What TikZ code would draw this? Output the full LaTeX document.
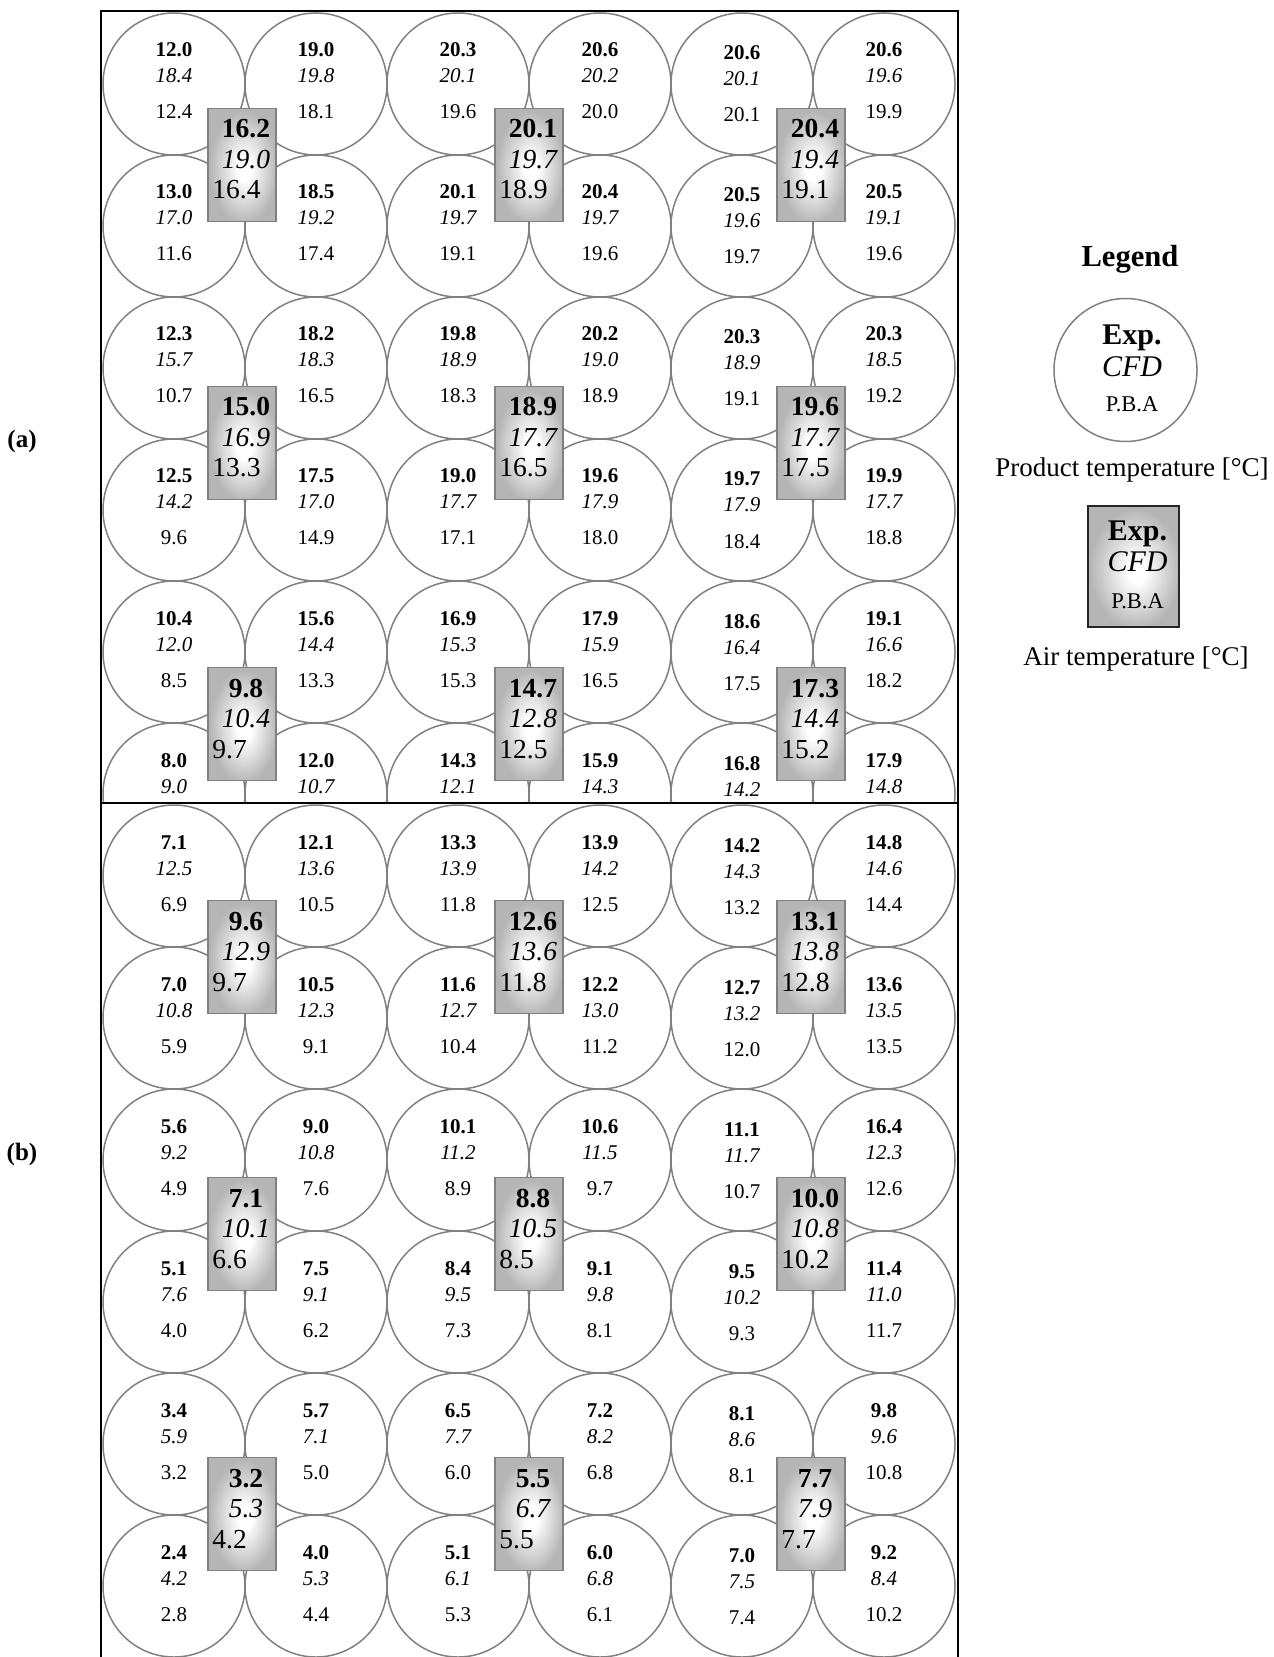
\documentclass[tikz,border=0pt]{standalone}
\usepackage{fontspec}
\setmainfont{Liberation Serif}
\usepackage{tikz}
\usetikzlibrary{shadings}

\newcommand\cellfont{\fontsize{10.5}{12.6}\selectfont}
\newcommand\boxfont{\fontsize{13.75}{16}\selectfont}
\newcommand\legfont{\fontsize{15}{18}\selectfont}

\pgfdeclareradialshading{airshade}{\pgfpoint{2bp}{-2bp}}{color(0bp)=(white); color(5bp)=(white);
  color(25bp)=(gray!58); color(50bp)=(gray!58)}

\tikzset{
  prod/.style={circle,draw=gray,line width=0.75pt,minimum size=71pt,inner sep=0pt},
  air/.style={rectangle,draw=gray,line width=0.75pt,shade,shading=airshade,
    minimum width=34pt,minimum height=56.5pt,inner sep=0pt},
  expval/.style={anchor=base,inner sep=0pt,font=\cellfont\bfseries},
  cfdval/.style={anchor=base,inner sep=0pt,font=\cellfont\itshape},
  pbaval/.style={anchor=base,inner sep=0pt,font=\cellfont},
  boxexp/.style={anchor=base,inner sep=0pt,font=\boxfont\bfseries},
  boxcfd/.style={anchor=base,inner sep=0pt,font=\boxfont\itshape},
  boxpba/.style={anchor=base west,inner sep=0pt,font=\boxfont},
  panel/.style={line width=1pt}
}

\begin{document}
\begin{tikzpicture}[x=0.5pt,y=-0.5pt]
\useasboundingbox (0,0) rectangle (1273,1657);
% (a) products
\begin{scope}
\clip (101,11) rectangle (958,803);
\foreach \r/\c/\e/\f/\p in {
  1/1/12.0/18.4/12.4, 1/2/19.0/19.8/18.1, 1/3/20.3/20.1/19.6, 1/4/20.6/20.2/20.0, 1/5/20.6/20.1/20.1, 1/6/20.6/19.6/19.9,
  2/1/13.0/17.0/11.6, 2/2/18.5/19.2/17.4, 2/3/20.1/19.7/19.1, 2/4/20.4/19.7/19.6, 2/5/20.5/19.6/19.7, 2/6/20.5/19.1/19.6,
  3/1/12.3/15.7/10.7, 3/2/18.2/18.3/16.5, 3/3/19.8/18.9/18.3, 3/4/20.2/19.0/18.9, 3/5/20.3/18.9/19.1, 3/6/20.3/18.5/19.2,
  4/1/12.5/14.2/9.6, 4/2/17.5/17.0/14.9, 4/3/19.0/17.7/17.1, 4/4/19.6/17.9/18.0, 4/5/19.7/17.9/18.4, 4/6/19.9/17.7/18.8,
  5/1/10.4/12.0/8.5, 5/2/15.6/14.4/13.3, 5/3/16.9/15.3/15.3, 5/4/17.9/15.9/16.5, 5/5/18.6/16.4/17.5, 5/6/19.1/16.6/18.2,
  6/1/8.0/9.0/{}, 6/2/12.0/10.7/{}, 6/3/14.3/12.1/{}, 6/4/15.9/14.3/{}, 6/5/16.8/14.2/{}, 6/6/17.9/14.8/{}}
{
  \pgfmathsetmacro\x{174+142*(\c-1)}
  \pgfmathsetmacro\y{84+142*(\r-1)}
  \pgfmathsetmacro\dy{ifthenelse(\c==5,3,0)}
  \node[prod] (a\r\c) at (\x,\y) {};
  \node[expval] (a\r\c e) at (\x,\y-27+\dy) {\e};
  \node[cfdval] (a\r\c f) at (\x,\y-1+\dy) {\f};
  \node[pbaval] (a\r\c p) at (\x,\y+35+\dy) {\p};
}
% (a) air
\foreach \n/\x/\y/\e/\f/\p in {
  1/242/165/16.2/19.0/16.4, 2/529/165/20.1/19.7/18.9, 3/811/165/20.4/19.4/19.1,
  4/242/443/15.0/16.9/13.3, 5/529/443/18.9/17.7/16.5, 6/811/443/19.6/17.7/17.5,
  7/242/724/9.8/10.4/9.7, 8/529/724/14.7/12.8/12.5, 9/811/724/17.3/14.4/15.2}
{
  \node[air] (aa\n) at (\x,\y) {};
  \node[boxexp] (aa\n e) at (\x+4,\y-27) {\e};
  \node[boxcfd] (aa\n f) at (\x+4,\y+3.5) {\f};
  \node[boxpba] (aa\n p) at (\x-30,\y+34) {\p};
}
\end{scope}
% (b) products
\begin{scope}
\clip (101,803) rectangle (958,1657);
\foreach \r/\c/\e/\f/\p in {
  1/1/7.1/12.5/6.9, 1/2/12.1/13.6/10.5, 1/3/13.3/13.9/11.8, 1/4/13.9/14.2/12.5, 1/5/14.2/14.3/13.2, 1/6/14.8/14.6/14.4,
  2/1/7.0/10.8/5.9, 2/2/10.5/12.3/9.1, 2/3/11.6/12.7/10.4, 2/4/12.2/13.0/11.2, 2/5/12.7/13.2/12.0, 2/6/13.6/13.5/13.5,
  3/1/5.6/9.2/4.9, 3/2/9.0/10.8/7.6, 3/3/10.1/11.2/8.9, 3/4/10.6/11.5/9.7, 3/5/11.1/11.7/10.7, 3/6/16.4/12.3/12.6,
  4/1/5.1/7.6/4.0, 4/2/7.5/9.1/6.2, 4/3/8.4/9.5/7.3, 4/4/9.1/9.8/8.1, 4/5/9.5/10.2/9.3, 4/6/11.4/11.0/11.7,
  5/1/3.4/5.9/3.2, 5/2/5.7/7.1/5.0, 5/3/6.5/7.7/6.0, 5/4/7.2/8.2/6.8, 5/5/8.1/8.6/8.1, 5/6/9.8/9.6/10.8,
  6/1/2.4/4.2/2.8, 6/2/4.0/5.3/4.4, 6/3/5.1/6.1/5.3, 6/4/6.0/6.8/6.1, 6/5/7.0/7.5/7.4, 6/6/9.2/8.4/10.2}
{
  \pgfmathsetmacro\x{174+142*(\c-1)}
  \pgfmathsetmacro\y{876+142*(\r-1)}
  \pgfmathsetmacro\dy{ifthenelse(\c==5,3,0)}
  \node[prod] (b\r\c) at (\x,\y) {};
  \node[expval] (b\r\c e) at (\x,\y-27+\dy) {\e};
  \node[cfdval] (b\r\c f) at (\x,\y-1+\dy) {\f};
  \node[pbaval] (b\r\c p) at (\x,\y+35+\dy) {\p};
}
% (b) air
\foreach \n/\x/\y/\e/\f/\p in {
  1/242/957/9.6/12.9/9.7, 2/529/957/12.6/13.6/11.8, 3/811/957/13.1/13.8/12.8,
  4/242/1234/7.1/10.1/6.6, 5/529/1234/8.8/10.5/8.5, 6/811/1234/10.0/10.8/10.2,
  7/242/1514/3.2/5.3/4.2, 8/529/1514/5.5/6.7/5.5, 9/811/1514/7.7/7.9/7.7}
{
  \node[air] (ba\n) at (\x,\y) {};
  \node[boxexp] (ba\n e) at (\x+4,\y-27) {\e};
  \node[boxcfd] (ba\n f) at (\x+4,\y+3.5) {\f};
  \node[boxpba] (ba\n p) at (\x-30,\y+34) {\p};
}
\end{scope}
% frames
\draw[panel] (101,1665) -- (101,11) -- (958,11) -- (958,1665);
\draw[panel] (101,803) -- (958,803);
\node[anchor=base,font=\fontsize{12.5}{15}\selectfont\bfseries] (lba) at (22,448) {(a)};
\node[anchor=base,font=\fontsize{12.5}{15}\selectfont\bfseries] (lbb) at (22,1160) {(b)};
% legend
\node[anchor=base,font=\fontsize{15.3}{18}\selectfont\bfseries] (leg) at (1130,267) {Legend};
\node[prod,minimum size=71.5pt] (legP) at (1125.5,370) {};
\node[anchor=base,font=\legfont\bfseries] (legPe) at (1132,345) {Exp.};
\node[anchor=base,font=\legfont\itshape] (legPf) at (1132,377) {CFD};
\node[anchor=base,font=\fontsize{11.25}{13}\selectfont] (legPp) at (1132,412) {P.B.A};
\node[anchor=base,font=\fontsize{13.5}{16}\selectfont] (legPt) at (1132,477) {Product temperature [°C]};
\node[air,draw=black!85,line width=1pt,minimum width=45.5pt,minimum height=60.5pt] (legA) at (1133.5,566.5) {};
\node[anchor=base,font=\legfont\bfseries] (legAe) at (1137.5,540) {Exp.};
\node[anchor=base,font=\legfont\itshape] (legAf) at (1137.5,571) {CFD};
\node[anchor=base,font=\fontsize{11.25}{13}\selectfont] (legAp) at (1137.5,608) {P.B.A};
\node[anchor=base,font=\fontsize{13.5}{16}\selectfont] (legAt) at (1136,665) {Air temperature [°C]};
\end{tikzpicture}
\end{document}
